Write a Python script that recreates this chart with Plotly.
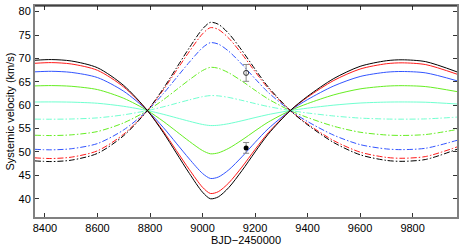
import plotly.graph_objects as go

# Time grid (BJD-2450000)
bjd = [8360, 8425, 8500, 8600, 8700, 8790, 8850, 8900, 8950, 9000, 9030, 9060,
       9100, 9150, 9200, 9250, 9334, 9400, 9500, 9600, 9700, 9760, 9850, 9970]

# Solid (primary) curves
black_solid = [69.6, 69.75, 69.45, 68.0, 64.2, 58.85, 54.2, 49.8, 45.4, 41.4, 40.0, 40.4,
               42.4, 46.0, 50.0, 53.8, 58.85, 61.9, 65.7, 68.3, 69.5, 69.7, 69.3, 67.1]
red_solid = [68.95, 69.1, 68.81, 67.45, 63.88, 58.85, 54.48, 50.34, 46.21, 42.45, 41.13, 41.51,
             43.39, 46.77, 50.53, 54.1, 58.85, 61.72, 65.29, 67.73, 68.86, 69.05, 68.67, 66.61]
blue_solid = [67.13, 67.24, 67.01, 65.9, 62.97, 58.85, 55.27, 51.88, 48.49, 45.41, 44.34, 44.64,
              46.18, 48.96, 52.04, 54.96, 58.85, 61.2, 64.12, 66.13, 67.05, 67.2, 66.9, 65.2]
green_solid = [64.12, 64.19, 64.04, 63.33, 61.47, 58.85, 56.57, 54.42, 52.26, 50.3, 49.61, 49.81,
               50.79, 52.55, 54.51, 56.38, 58.85, 60.34, 62.21, 63.48, 64.07, 64.17, 63.97, 62.89]
cyan_solid = [60.68, 60.7, 60.65, 60.41, 59.76, 58.85, 58.06, 57.31, 56.56, 55.88, 55.65, 55.71,
              56.05, 56.67, 57.35, 57.99, 58.85, 59.37, 60.01, 60.46, 60.66, 60.69, 60.63, 60.25]

# Dash-dot (secondary) curves
black_dash = [48.1, 47.95, 48.25, 49.7, 53.5, 58.85, 63.5, 67.9, 72.3, 76.3, 77.7, 77.3,
              75.3, 71.7, 67.7, 63.9, 58.85, 55.8, 52.0, 49.4, 48.2, 48.0, 48.4, 50.6]
red_dash = [48.75, 48.6, 48.89, 50.25, 53.82, 58.85, 63.22, 67.36, 71.49, 75.25, 76.57, 76.19,
            74.31, 70.93, 67.17, 63.6, 58.85, 55.98, 52.41, 49.97, 48.84, 48.65, 49.03, 51.09]
blue_dash = [50.57, 50.46, 50.69, 51.8, 54.73, 58.85, 62.43, 65.82, 69.21, 72.29, 73.36, 73.06,
             71.52, 68.74, 65.66, 62.74, 58.85, 56.5, 53.58, 51.57, 50.65, 50.5, 50.8, 52.5]
green_dash = [53.58, 53.51, 53.66, 54.37, 56.23, 58.85, 61.13, 63.28, 65.44, 67.4, 68.09, 67.89,
              66.91, 65.15, 63.19, 61.32, 58.85, 57.36, 55.49, 54.22, 53.63, 53.53, 53.73, 54.81]
cyan_dash = [57.02, 57.0, 57.05, 57.29, 57.94, 58.85, 59.64, 60.39, 61.14, 61.82, 62.05, 61.99,
             61.65, 61.03, 60.35, 59.71, 58.85, 58.33, 57.69, 57.24, 57.04, 57.01, 57.07, 57.45]

# Measurements
obs_x = [9166]
obs_open_y = [66.9]
obs_open_err = [1.8]
obs_fill_y = [50.87]
obs_fill_err = [1.15]

x_ticks = [8400, 8600, 8800, 9000, 9200, 9400, 9600, 9800]
y_ticks = [40, 45, 50, 55, 60, 65, 70, 75, 80]

colors = {"cyan": "#70ffd0", "green": "#66ee22", "blue": "#3355ff", "red": "#ff1a1a", "black": "#000000"}

fig = go.Figure()
pairs = [("cyan", cyan_solid, cyan_dash), ("green", green_solid, green_dash),
         ("blue", blue_solid, blue_dash), ("red", red_solid, red_dash),
         ("black", black_solid, black_dash)]
for name, sol, dsh in pairs:
    fig.add_trace(go.Scatter(x=bjd, y=sol, mode="lines", line=dict(color=colors[name], width=1, shape="spline", smoothing=0.8),
                             showlegend=False, hoverinfo="skip"))
    fig.add_trace(go.Scatter(x=bjd, y=dsh, mode="lines",
                             line=dict(color=colors[name], width=1, dash="6px,2px,1.5px,2px", shape="spline", smoothing=0.8),
                             showlegend=False, hoverinfo="skip"))

fig.add_trace(go.Scatter(x=obs_x, y=obs_open_y, mode="markers",
                         marker=dict(symbol="circle-open", size=5, color="#333333", line=dict(width=1, color="#333333")),
                         error_y=dict(type="data", array=obs_open_err, color="#888888", thickness=1, width=3),
                         showlegend=False, hoverinfo="skip"))
fig.add_trace(go.Scatter(x=obs_x, y=obs_fill_y, mode="markers",
                         marker=dict(symbol="circle", size=5, color="#000000"),
                         error_y=dict(type="data", array=obs_fill_err, color="#888888", thickness=1, width=3),
                         showlegend=False, hoverinfo="skip"))

font = dict(family="Liberation Sans, Arial, sans-serif", size=11, color="#000000")
fig.update_layout(
    width=463, height=249,
    margin=dict(l=35, r=4, t=5, b=32),
    paper_bgcolor="white", plot_bgcolor="white",
    font=font,
    xaxis=dict(range=[8362, 9969], tickvals=x_ticks, ticktext=[str(v) for v in x_ticks],
               ticks="inside", ticklen=4, tickcolor="#333333", tickwidth=1,
               showline=True, linecolor="#808080", linewidth=2, mirror="ticks",
               showgrid=False, zeroline=False,
               title=dict(text="BJD\u22122450000", font=font, standoff=3)),
    yaxis=dict(range=[36.1, 81.2], tickvals=y_ticks, ticktext=[str(v) for v in y_ticks],
               ticks="inside", ticklen=4, tickcolor="#333333", tickwidth=1,
               showline=True, linecolor="#808080", linewidth=2, mirror="ticks",
               showgrid=False, zeroline=False,
               title=dict(text="Systemic velocity (km/s)", font=font, standoff=2)),
)
fig.add_shape(type="line", xref="paper", yref="paper", x0=0, x1=1, y0=1, y1=1,
              line=dict(color="#000000", width=1))
fig.write_html("out.html", config={"displayModeBar": False},
               post_script="document.body.style.margin='0';document.body.style.overflow='hidden';")
